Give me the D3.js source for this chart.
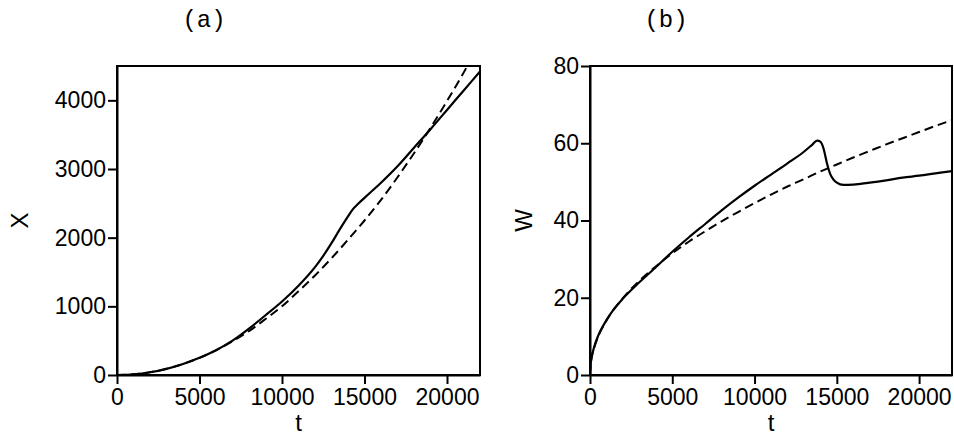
<!DOCTYPE html>
<html>
<head>
<meta charset="utf-8">
<script src="https://cdn.jsdelivr.net/npm/d3@7"></script>
<style>
  html, body { margin: 0; padding: 0; background: #fff; }
  svg { display: block; }
</style>
</head>
<body>
<svg id="chart" width="954" height="437"></svg>
<script>
// ---------- data ----------
const panelTitles = ["(a)", "(b)"];
const yLabels = ["X", "W"];
const xLabel = "t";
const xTicks = [0, 5000, 10000, 15000, 20000];
const yTicksA = [0, 1000, 2000, 3000, 4000];
const yTicksB = [0, 20, 40, 60, 80];
const xDomain = [0, 22000];
const yDomainA = [0, 4500];
const yDomainB = [0, 80];

// Panel (a): solid (simulation) X(t)
const tSolidA = [0, 1000, 2000, 3000, 4000, 5000, 6000, 7000, 8000, 9000, 10000, 11000, 12000, 12500, 13000, 13500, 14000, 14300, 14600, 15000, 16000, 17000, 18000, 19000, 20000, 21000, 22000];
const xSolidA = [0, 10, 40, 90, 160, 250, 360, 500, 675, 870, 1070, 1300, 1570, 1735, 1920, 2120, 2310, 2415, 2490, 2580, 2800, 3040, 3310, 3580, 3860, 4140, 4420];
// Panel (a): dashed (theory) X(t)
const tDashA = [0, 1000, 2000, 3000, 4000, 5000, 6000, 7000, 8000, 9000, 10000, 11000, 12000, 13000, 14000, 15000, 16000, 17000, 18000, 19000, 20000, 21000, 21500];
const xDashA = [0, 10, 40, 90, 160, 250, 360, 490, 640, 815, 1000, 1220, 1450, 1700, 1970, 2250, 2550, 2880, 3230, 3600, 3990, 4400, 4620];

// Panel (b): solid W(t)
const tSolidB = [0, 50, 100, 250, 500, 1000, 1500, 2000, 3000, 4000, 5000, 6000, 7000, 8000, 9000, 10000, 11000, 12000, 13000, 13500, 13800, 14000, 14200, 14400, 14600, 14800, 15000, 15400, 16000, 17000, 18000, 19000, 20000, 21000, 22000];
const wSolidB = [0, 3.2, 4.6, 7.2, 10.2, 14.2, 17.3, 19.8, 24.0, 27.9, 31.9, 35.6, 39.1, 42.6, 45.9, 49.0, 51.9, 54.8, 57.8, 59.6, 60.7, 60.4, 58.5, 54.8, 52.0, 50.6, 49.8, 49.2, 49.3, 49.8, 50.4, 51.1, 51.6, 52.2, 52.8];
// Panel (b): dashed W(t)
const tDashB = [0, 50, 100, 250, 500, 1000, 2000, 3000, 4000, 5000, 6000, 7000, 8000, 9000, 10000, 11000, 12000, 13000, 14000, 15000, 16000, 17000, 18000, 19000, 20000, 21000, 22000];
const wDashB = [0, 3.1, 4.5, 7.0, 10.0, 14.1, 19.9, 24.4, 28.1, 31.5, 34.5, 37.2, 39.8, 42.2, 44.5, 46.7, 48.8, 50.7, 52.7, 54.5, 56.3, 58.0, 59.7, 61.3, 62.9, 64.5, 66.0];

// ---------- drawing ----------
const svg = d3.select("#chart");
const FONT = '"Liberation Sans", Arial, Helvetica, sans-serif';

const panels = [
  { left: 117, right: 480, top: 66, bottom: 375, yDomain: yDomainA, yTicks: yTicksA,
    solid: d3.zip(tSolidA, xSolidA), dashed: d3.zip(tDashA, xDashA), title: panelTitles[0], ylab: yLabels[0],
    titleX: 204, ylabX: 19 },
  { left: 590, right: 952, top: 66, bottom: 375, yDomain: yDomainB, yTicks: yTicksB,
    solid: d3.zip(tSolidB, wSolidB), dashed: d3.zip(tDashB, wDashB), title: panelTitles[1], ylab: yLabels[1],
    titleX: 666, ylabX: 523 }
];

panels.forEach((p, i) => {
  const x = d3.scaleLinear().domain(xDomain).range([p.left, p.right]);
  const y = d3.scaleLinear().domain(p.yDomain).range([p.bottom, p.top]);
  const g = svg.append("g");

  const clipId = "clip" + i;
  svg.append("clipPath").attr("id", clipId)
    .append("rect").attr("x", p.left).attr("y", p.top)
    .attr("width", p.right - p.left).attr("height", p.bottom - p.top);

  const line = d3.line().x(d => x(d[0])).y(d => y(d[1])).curve(d3.curveMonotoneX);

  g.append("path").datum(p.dashed)
    .attr("clip-path", `url(#${clipId})`)
    .attr("d", line).attr("fill", "none").attr("stroke", "#000")
    .attr("stroke-width", 2).attr("stroke-dasharray", "9,5");
  g.append("path").datum(p.solid)
    .attr("clip-path", `url(#${clipId})`)
    .attr("d", line).attr("fill", "none").attr("stroke", "#000")
    .attr("stroke-width", 2.2).attr("stroke-linejoin", "round");

  // frame
  g.append("rect").attr("x", p.left).attr("y", p.top)
    .attr("width", p.right - p.left).attr("height", p.bottom - p.top)
    .attr("fill", "none").attr("stroke", "#000").attr("stroke-width", 2);

  const xAxis = g.append("g").attr("transform", `translate(0,${p.bottom})`)
    .call(d3.axisBottom(x).tickValues(xTicks).tickSize(9).tickSizeOuter(0).tickPadding(5).tickFormat(d3.format("d")));
  const yAxis = g.append("g").attr("transform", `translate(${p.left},0)`)
    .call(d3.axisLeft(y).tickValues(p.yTicks).tickSize(9).tickSizeOuter(0).tickPadding(2).tickFormat(d3.format("d")));
  [xAxis, yAxis].forEach(a => {
    a.select(".domain").attr("stroke", "#000").attr("stroke-width", 2);
    a.selectAll(".tick line").attr("stroke", "#000").attr("stroke-width", 2);
    a.selectAll(".tick text").attr("font-family", FONT).attr("font-size", 23).attr("fill", "#000");
  });

  // x label
  g.append("text").attr("x", (p.left + p.right) / 2).attr("y", 431)
    .attr("text-anchor", "middle").attr("font-family", FONT).attr("font-size", 24)
    .text(xLabel);
  // y label
  g.append("text").attr("transform", `translate(${p.ylabX},${(p.top + p.bottom) / 2}) rotate(-90)`)
    .attr("text-anchor", "middle").attr("dominant-baseline", "central")
    .attr("font-family", FONT).attr("font-size", 24)
    .text(p.ylab);
  // title
  g.append("text").attr("x", p.titleX).attr("y", 27)
    .attr("text-anchor", "middle").attr("font-family", '"Liberation Mono", "Courier New", monospace')
    .attr("font-size", 24).text(p.title);
});
</script>
</body>
</html>
